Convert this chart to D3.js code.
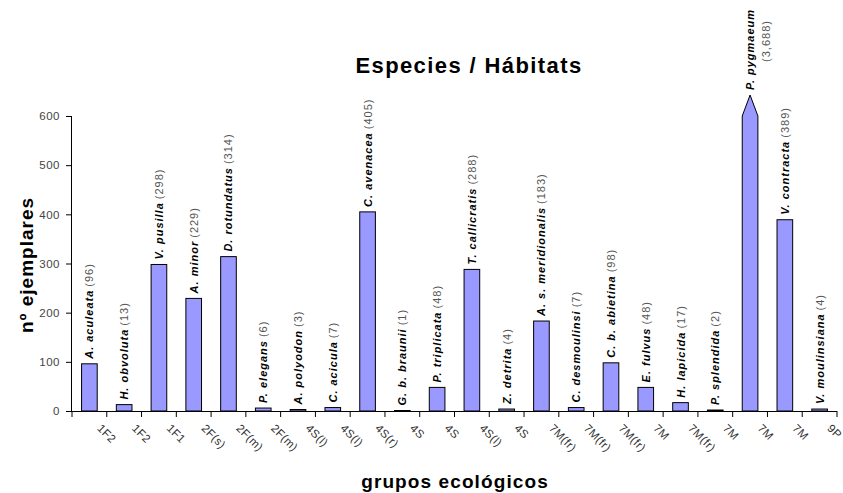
<!DOCTYPE html>
<html><head><meta charset="utf-8">
<script src="https://cdn.jsdelivr.net/npm/d3@7"></script>
<style>body{margin:0;background:#fff}svg{display:block}</style>
</head><body>
<svg id="c" width="843" height="493"></svg>
<script>
const groups = ["1F2","1F2","1F1","2F(s)","2F(m)","2F(m)","4S(l)","4S(l)","4S(r)","4S","4S","4S(l)","4S","7M(fr)","7M(fr)","7M(fr)","7M","7M(fr)","7M","7M","7M","9P"];
const species = ["A. aculeata","H. obvoluta","V. pusilla","A. minor","D. rotundatus","P. elegans","A. polyodon","C. acicula","C. avenacea","G. b. braunii","P. triplicata","T. callicratis","Z. detrita","A. s. meridionalis","C. desmoulinsi","C. b. abietina","E. fulvus","H. lapicida","P. splendida","P. pygmaeum","V. contracta","V. moulinsiana"];
const counts = [96,13,298,229,314,6,3,7,405,1,48,288,4,183,7,98,48,17,2,3688,389,4];
const countLabels = ["96","13","298","229","314","6","3","7","405","1","48","288","4","183","7","98","48","17","2","3,688","389","4"];
const yTicks = [0,100,200,300,400,500,600];
const yMax = 600;

(function(){
const svg = d3.select("#c");
const mL = 72, mR = 837, mT = 116, mB = 411;
const x = d3.scaleBand().domain(d3.range(groups.length)).range([mL, mR]).paddingInner(0.55).paddingOuter(0.275);
const xb = d3.scaleBand().domain(d3.range(groups.length)).range([mL, mR]);
const y = d3.scaleLinear().domain([0, yMax]).range([mB, mT]);
const font = "'Liberation Sans', Arial, sans-serif";

svg.append("text").attr("x", 469).attr("y", 73).attr("text-anchor","middle")
  .attr("font-family", font).attr("font-weight","bold").attr("font-size", 22).attr("letter-spacing", 1.4)
  .text("Especies / Hábitats");
svg.append("text").attr("transform","translate(33,265) rotate(-90)").attr("text-anchor","middle")
  .attr("font-family", font).attr("font-weight","bold").attr("font-size", 19).attr("letter-spacing", 1)
  .text("nº ejemplares");
svg.append("text").attr("x", 455).attr("y", 488).attr("text-anchor","middle")
  .attr("font-family", font).attr("font-weight","bold").attr("font-size", 19).attr("letter-spacing", 1.1)
  .text("grupos ecológicos");

const ya = svg.append("g").attr("transform", `translate(${mL},0)`)
  .call(d3.axisLeft(y).tickValues(yTicks).tickSize(6).tickPadding(6).tickFormat(d3.format("d")));
ya.select(".domain").attr("stroke","#000").attr("d", `M-0.5,${mT}V${mB}`);
ya.selectAll(".tick line").attr("stroke","#000");
ya.selectAll("text").attr("font-family", font).attr("font-size", 11.5).attr("letter-spacing", 0.5).attr("fill","#444");

const g = svg.append("g");
counts.forEach((v, i) => {
  const x0 = x(i), w = x.bandwidth();
  if (v > yMax) {
    const tip = y(yMax) - 21;
    g.append("path")
      .attr("d", `M${x0},${y(0)}V${y(yMax)}L${x0 + w/2},${tip}L${x0 + w},${y(yMax)}V${y(0)}Z`)
      .attr("fill","#9999ff").attr("stroke","#000").attr("stroke-width",1);
  } else {
    g.append("rect").attr("x", x0).attr("y", y(v)).attr("width", w).attr("height", y(0) - y(v))
      .attr("fill","#9999ff").attr("stroke","#000").attr("stroke-width",1);
  }
});

svg.append("path").attr("d", `M${mL},${mB + 0.5}H${mR}`).attr("stroke","#000").attr("fill","none");
for (let i = 0; i <= groups.length; i++) {
  const xt = i < groups.length ? xb(i) : mR;
  svg.append("line").attr("x1", xt).attr("x2", xt).attr("y1", mB).attr("y2", mB + 6).attr("stroke","#000");
}
groups.forEach((t, i) => {
  const cx = xb(i) + xb.bandwidth()/2;
  svg.append("text").attr("transform", `translate(${cx + 7},${mB + 18}) rotate(45)`)
    .attr("font-family", font).attr("font-size", 11.5).attr("letter-spacing", 0.4).attr("fill","#333").text(t);
});

counts.forEach((v, i) => {
  const cx = x(i) + x.bandwidth()/2;
  if (v > yMax) {
    const tip = y(yMax) - 21;
    svg.append("text").attr("transform", `translate(${cx + 4},${tip - 5}) rotate(-90)`)
      .attr("font-family", font).attr("font-size", 11).attr("letter-spacing", 1)
      .attr("font-weight","bold").attr("font-style","italic")
      .text(species[i]);
    svg.append("text").attr("transform", `translate(${cx + 20},${tip - 54}) rotate(-90)`)
      .attr("text-anchor","middle").attr("letter-spacing", 1)
      .attr("font-family", font).attr("font-size", 11).attr("fill","#555").text(`(${countLabels[i]})`);
  } else {
    const t = svg.append("text").attr("transform", `translate(${cx + 4},${y(v) - 5}) rotate(-90)`)
      .attr("font-family", font).attr("font-size", 11).attr("letter-spacing", 1);
    t.append("tspan").attr("font-weight","bold").attr("font-style","italic").text(species[i]);
    t.append("tspan").attr("fill","#555").attr("dx", 3).text(`(${countLabels[i]})`);
  }
});
})();
</script>
</body></html>
